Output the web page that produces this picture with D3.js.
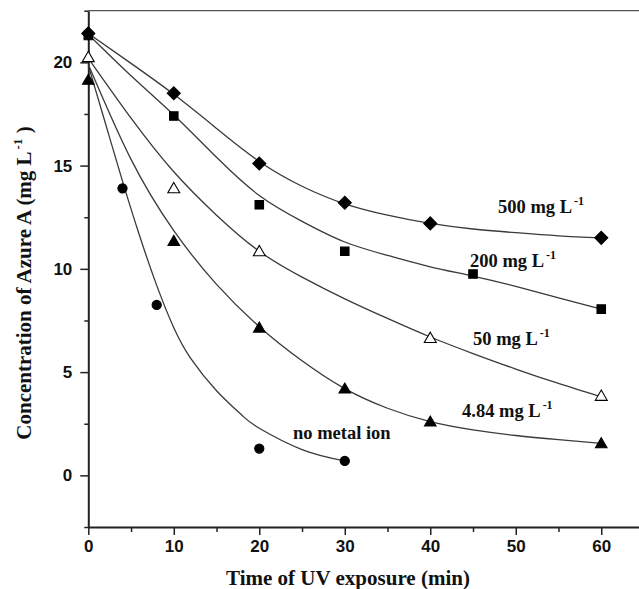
<!DOCTYPE html>
<html>
<head>
<meta charset="utf-8">
<script src="https://cdn.jsdelivr.net/npm/d3@7"></script>
<style>
  body { margin: 0; background: #fff; }
  svg { display: block; }
</style>
</head>
<body>
<div id="chart"></div>
<script>
// measured points (time in min, concentration in mg/L)
const x500 = [0, 10, 20, 30, 40, 60];
const y500 = [21.4, 18.5, 15.1, 13.2, 12.2, 11.5];
const x200 = [0, 10, 20, 30, 45, 60];
const y200 = [21.3, 17.4, 13.1, 10.85, 9.75, 8.05];
const x50 = [0, 10, 20, 40, 60];
const y50 = [20.2, 13.85, 10.8, 6.6, 3.8];
const x484 = [0, 10, 20, 30, 40, 60];
const y484 = [19.1, 11.3, 7.1, 4.15, 2.55, 1.5];
const xNone = [4, 8, 20, 30];
const yNone = [13.9, 8.25, 1.3, 0.7];

// fitted curves
const fit500 = [[0, 21.4], [5, 19.95], [10, 18.45], [15, 16.8], [20, 15.2], [25, 14.0], [30, 13.15], [35, 12.6], [40, 12.2], [45, 11.93], [50, 11.75], [55, 11.6], [60, 11.5]];
const fit200 = [[0, 21.35], [5, 19.35], [10, 17.45], [15, 15.4], [20, 13.55], [25, 12.3], [30, 11.3], [35, 10.65], [40, 10.1], [45, 9.65], [50, 9.15], [55, 8.6], [60, 8.05]];
const fit50 = [[0, 20.2], [5, 17.3], [10, 14.7], [15, 12.6], [20, 10.85], [25, 9.6], [30, 8.55], [35, 7.6], [40, 6.7], [45, 5.9], [50, 5.15], [55, 4.45], [60, 3.8]];
const fit484 = [[0, 19.9], [5, 15.3], [10, 11.85], [15, 9.25], [20, 7.2], [25, 5.55], [30, 4.2], [35, 3.25], [40, 2.6], [45, 2.2], [50, 1.93], [55, 1.73], [60, 1.55]];
const fitNone = [[0, 19.85], [2, 17.05], [4, 14.25], [6, 11.6], [8, 9.2], [10, 7.15], [12, 5.65], [15, 4.1], [18, 2.9], [20, 2.28], [25, 1.25], [30, 0.7]];

const labels = ["500 mg L", "200 mg L", "50 mg L", "4.84 mg L", "no metal ion"];
const xTicks = [0, 10, 20, 30, 40, 50, 60];
const yTicks = [0, 5, 10, 15, 20];

const width = 639, height = 589;
const svg = d3.select("#chart").append("svg")
    .attr("width", width)
    .attr("height", height);

const x = d3.scaleLinear().domain([0, 65]).range([88.3, 644]);
const y = d3.scaleLinear().domain([-2.5, 22.5]).range([527, 10.7]);

// frame (top line, right side falls outside the picture)
svg.append("line")
    .attr("x1", x(0)).attr("x2", x(65))
    .attr("y1", y(22.5)).attr("y2", y(22.5))
    .style("stroke", "#555").style("stroke-width", 1.3);

// x axis
let xMinor = d3.range(5, 65, 10);
svg.append("g")
    .attr("transform", "translate(0," + y(-2.5) + ")")
    .call(d3.axisBottom(x).tickValues(xMinor).tickSize(5).tickFormat(""))
    .call(g => g.select(".domain").remove());
let xAxis = svg.append("g")
    .attr("transform", "translate(0," + y(-2.5) + ")")
    .call(d3.axisBottom(x).tickValues(xTicks).tickSize(8).tickSizeOuter(0).tickPadding(5));
xAxis.selectAll("text")
    .style("font-family", "'Liberation Sans', Arial, sans-serif")
    .style("font-weight", "bold")
    .style("font-size", "17px")
    .style("fill", "#111");

// y axis
let yMinor = d3.range(-2.5, 23, 5);
svg.append("g")
    .attr("transform", "translate(" + x(0) + ",0)")
    .call(d3.axisLeft(y).tickValues(yMinor).tickSize(4).tickFormat(""))
    .call(g => g.select(".domain").remove());
let yAxis = svg.append("g")
    .attr("transform", "translate(" + x(0) + ",0)")
    .call(d3.axisLeft(y).tickValues(yTicks).tickSize(8).tickSizeOuter(0).tickPadding(8));
yAxis.selectAll("text")
    .style("font-family", "'Liberation Sans', Arial, sans-serif")
    .style("font-weight", "bold")
    .style("font-size", "17px")
    .style("fill", "#111");

svg.selectAll(".domain").style("stroke-width", 2).style("stroke", "#222");
svg.selectAll(".tick line").style("stroke-width", 1.5).style("stroke", "#222");

// fitted curves
let line = d3.line()
    .x(d => x(d[0]))
    .y(d => y(d[1]))
    .curve(d3.curveNatural);
[fit500, fit200, fit50, fit484, fitNone].forEach(f => {
    svg.append("path")
        .attr("d", line(f))
        .style("fill", "none")
        .style("stroke", "#3a3a3a")
        .style("stroke-width", 1.3);
});

// markers
let series = [
    {xs: x200, ys: y200, sym: d3.symbolSquare, size: 72, rot: 0, fill: "#000"},
    {xs: x500, ys: y500, sym: d3.symbolSquare, size: 85, rot: 45, fill: "#000"},
    {xs: x484, ys: y484, sym: d3.symbolTriangle, size: 58, rot: 0, fill: "#000"},
    {xs: x50, ys: y50, sym: d3.symbolTriangle, size: 62, rot: 0, fill: "#fff"},
    {xs: xNone, ys: yNone, sym: d3.symbolCircle, size: 66, rot: 0, fill: "#000"}
];
series.forEach(s => {
    svg.append("g").selectAll("path")
        .data(s.xs)
        .enter()
        .append("path")
        .attr("d", d3.symbol().type(s.sym).size(s.size))
        .attr("transform", (d, i) => "translate(" + x(d) + "," + y(s.ys[i]) + ") rotate(" + s.rot + ")")
        .style("fill", s.fill)
        .style("stroke", "#000")
        .style("stroke-width", 1.1);
});

// curve labels
let labelPos = [[498, 213], [470, 267], [473, 345], [462, 417], [293, 439]];
for (let i = 0; i < labels.length; i++) {
    let t = svg.append("text")
        .attr("x", labelPos[i][0])
        .attr("y", labelPos[i][1])
        .style("font-family", "'Liberation Serif', 'Times New Roman', serif")
        .style("font-weight", "bold")
        .style("font-size", "18.5px")
        .style("fill", "#111")
        .text(labels[i]);
    if (i < 4) {
        t.append("tspan")
            .attr("dy", -8)
            .attr("dx", 2)
            .style("font-size", "12px")
            .text("-1");
    }
}

// axis titles
svg.append("text")
    .attr("x", 348)
    .attr("y", 585)
    .attr("text-anchor", "middle")
    .style("font-family", "'Liberation Serif', 'Times New Roman', serif")
    .style("font-weight", "bold")
    .style("font-size", "21px")
    .style("fill", "#111")
    .text("Time of UV exposure (min)");

let yt = svg.append("text")
    .attr("transform", "translate(31,283) rotate(-90)")
    .attr("text-anchor", "middle")
    .style("font-family", "'Liberation Serif', 'Times New Roman', serif")
    .style("font-weight", "bold")
    .style("font-size", "21px")
    .style("fill", "#111")
    .text("Concentration of Azure A (mg L");
yt.append("tspan").attr("dy", -9).attr("dx", 2).style("font-size", "13px").text("-1");
yt.append("tspan").attr("dy", 9).text(" )");
</script>
</body>
</html>
